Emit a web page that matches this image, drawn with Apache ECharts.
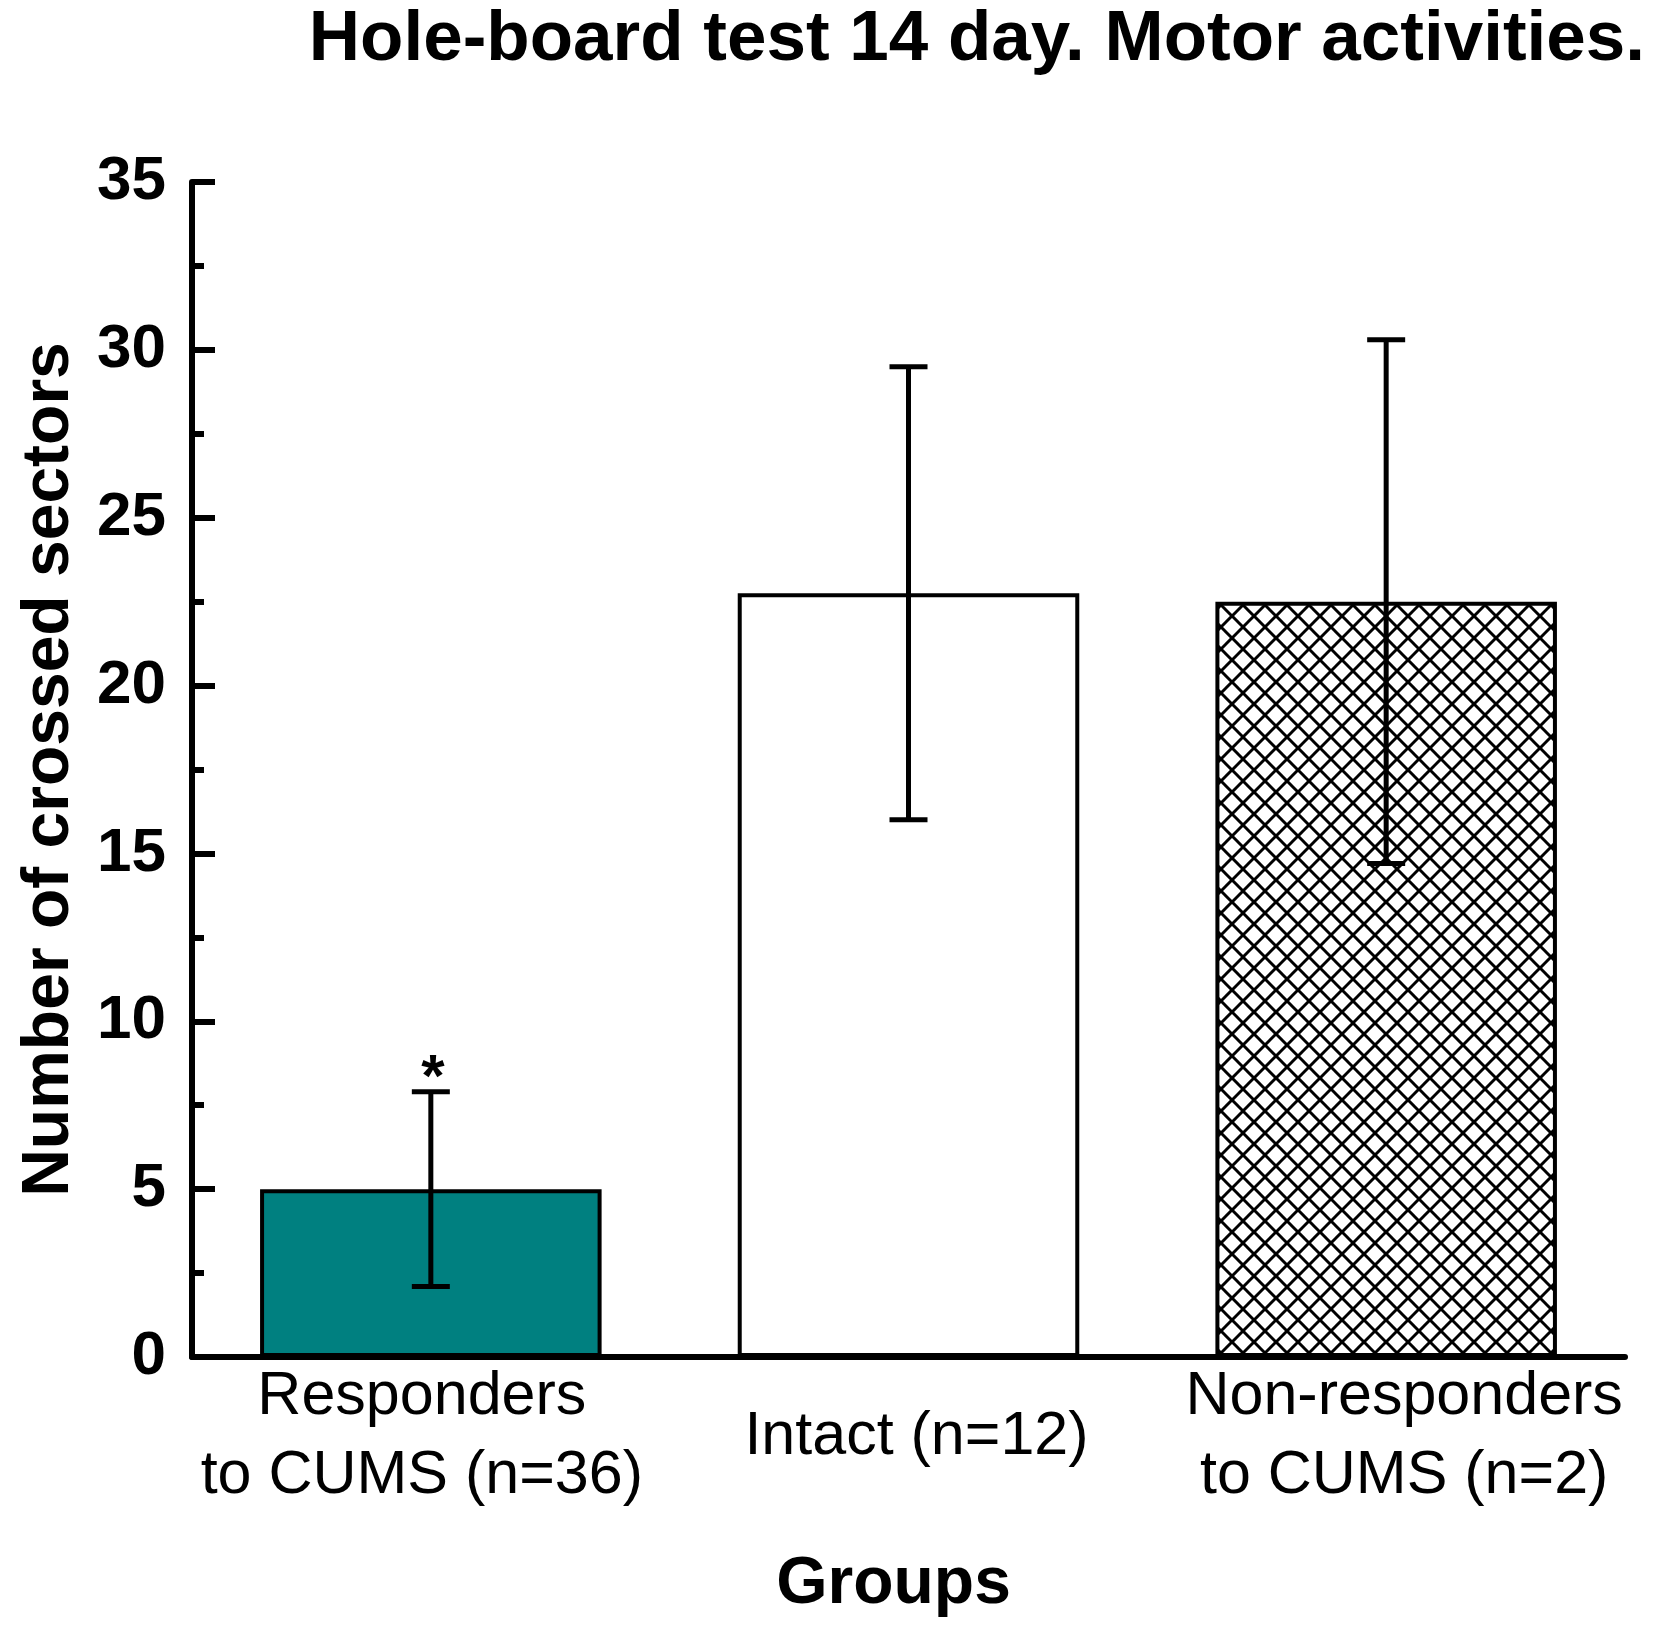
<!DOCTYPE html>
<html>
<head>
<meta charset="utf-8">
<script src="https://cdn.jsdelivr.net/npm/echarts@6/dist/echarts.min.js"></script>
<style>
html,body{margin:0;padding:0;background:#fff;}
#chart{width:1659px;height:1627px;}
</style>
</head>
<body>
<div id="chart"></div>
<script>
// ---- data ----
var categories = ['Responders\nto CUMS (n=36)', 'Intact (n=12)', 'Non-responders\nto CUMS (n=2)'];
var means = [5.0, 22.75, 22.5];
var errors = [2.9, 6.75, 7.8];
var markers = ['*', '', ''];
var yTicks = [0, 5, 10, 15, 20, 25, 30, 35];

var FONT = '"Liberation Sans", Arial, Helvetica, sans-serif';

// crosshatch pattern
function makeHatch() {
  var s = 22;
  var c = document.createElement('canvas');
  c.width = s; c.height = s;
  var ctx = c.getContext('2d');
  ctx.fillStyle = '#fff';
  ctx.fillRect(0, 0, s, s);
  ctx.strokeStyle = '#000';
  ctx.lineWidth = 3;
  for (var k = -1; k <= 1; k++) {
    ctx.beginPath();
    ctx.moveTo(k * s, 0); ctx.lineTo(k * s + s, s); ctx.stroke();
    ctx.beginPath();
    ctx.moveTo(k * s, s); ctx.lineTo(k * s + s, 0); ctx.stroke();
  }
  return c;
}
var hatch = makeHatch();

var fills = ['#008080', '#ffffff', { image: hatch, repeat: 'repeat' }];

var barData = means.map(function (v, i) {
  return { value: v, itemStyle: { color: fills[i] } };
});
var errData = means.map(function (v, i) {
  return [i, v - errors[i], v + errors[i], markers[i]];
});

var labelRich = {};
var labelPads = [[0, 18, 0, 0], [0, 0, 0, 16], [0, 0, 0, 36]];
labelPads.forEach(function (p, i) {
  labelRich['r' + i] = { fontFamily: FONT, fontSize: 61, color: '#000', lineHeight: 79, padding: p };
});

var chart = echarts.init(document.getElementById('chart'), null, { renderer: 'canvas' });
chart.setOption({
  animation: false,
  backgroundColor: '#fff',
  title: {
    text: 'Hole-board test 14 day. Motor activities.',
    right: 9,
    top: 0,
    textStyle: { fontFamily: FONT, fontWeight: 'bold', fontSize: 71, color: '#000' }
  },
  grid: { left: 192, right: 34, top: 182, bottom: 270, containLabel: false },
  xAxis: {
    type: 'category',
    data: categories,
    name: 'Groups',
    nameLocation: 'middle',
    nameGap: 195,
    nameTextStyle: { fontFamily: FONT, fontWeight: 'bold', fontSize: 66, color: '#000', padding: [0, 30, 0, 0] },
    axisLine: { lineStyle: { color: '#000', width: 6 } },
    axisTick: { show: false },
    axisLabel: {
      fontFamily: FONT, fontSize: 61, color: '#000', lineHeight: 79,
      verticalAlign: 'middle', margin: 80, interval: 0,
      formatter: function (v, i) {
        return v.split('\n').map(function (line) { return '{r' + i + '|' + line + '}'; }).join('\n');
      },
      rich: labelRich
    },
    splitLine: { show: false }
  },
  yAxis: {
    type: 'value',
    min: 0, max: 35, interval: 5,
    name: 'Number of crossed sectors',
    nameLocation: 'middle',
    nameGap: 109,
    nameRotate: 90,
    nameTextStyle: { fontFamily: FONT, fontWeight: 'bold', fontSize: 66, color: '#000' },
    axisLine: { show: true, lineStyle: { color: '#000', width: 6 } },
    axisTick: { show: true, inside: true, length: 23, lineStyle: { color: '#000', width: 6 } },
    minorTick: { show: true, splitNumber: 2, length: 12, lineStyle: { color: '#000', width: 6 } },
    axisLabel: {
      fontFamily: FONT, fontWeight: 'bold', fontSize: 62, color: '#000', margin: 26,
      formatter: function (v) { return yTicks.indexOf(v) >= 0 ? String(v) : ''; }
    },
    splitLine: { show: false }
  },
  series: [
    {
      type: 'bar',
      data: barData,
      barWidth: '71.5%',
      itemStyle: { borderColor: '#000', borderWidth: 4 },
      z: 2
    },
    {
      type: 'custom',
      data: errData,
      z: 5,
      renderItem: function (params, api) {
        var x = api.value(0);
        var lo = api.coord([x, api.value(1)]);
        var hi = api.coord([x, api.value(2)]);
        var half = 19;
        var st = { stroke: '#000', lineWidth: 5 };
        var children = [
          { type: 'line', shape: { x1: lo[0], y1: lo[1], x2: hi[0], y2: hi[1] }, style: st },
          { type: 'line', shape: { x1: lo[0] - half, y1: lo[1], x2: lo[0] + half, y2: lo[1] }, style: st },
          { type: 'line', shape: { x1: hi[0] - half, y1: hi[1], x2: hi[0] + half, y2: hi[1] }, style: st }
        ];
        var m = markers[params.dataIndex];
        if (m) {
          children.push({
            type: 'text',
            style: {
              text: m, x: hi[0] + 2, y: hi[1] - 12,
              align: 'center', verticalAlign: 'middle',
              fontFamily: FONT, fontWeight: 'bold', fontSize: 60, fill: '#000'
            }
          });
        }
        return { type: 'group', children: children };
      }
    }
  ]
});
</script>
</body>
</html>
